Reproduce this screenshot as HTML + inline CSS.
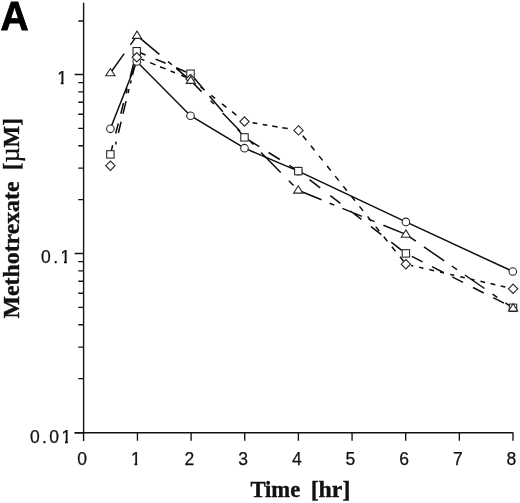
<!DOCTYPE html>
<html lang="en"><head><meta charset="utf-8"><title>Methotrexate concentration vs time</title>
<style>html,body{margin:0;padding:0;background:#fff}svg{display:block;will-change:transform}.tk{font-family:"Liberation Sans",Arial,Helvetica,sans-serif;font-size:17.5px;fill:#111;letter-spacing:2.45px;stroke:#111;stroke-width:0.25px}.ax{font-family:"Liberation Serif","Times New Roman",Times,serif;font-weight:bold;font-size:23.6px;fill:#111;stroke:#111;stroke-width:0.35px}.pl{font-family:"Liberation Sans",Arial,Helvetica,sans-serif;font-weight:bold;font-size:39px;fill:#000}.ln{stroke:#0c0c0c;stroke-width:1.5;fill:none}.mk{stroke:#262626;stroke-width:1.08;fill:#fff}.axl{stroke:#111;stroke-width:1.4;fill:none}.tck{stroke:#111;stroke-width:1.35;fill:none}</style></head><body>
<svg width="520" height="503" viewBox="0 0 520 503">
<rect width="520" height="503" fill="#fff"/>
<text class="pl" transform="translate(0.5 29.95) scale(1 1.055)" stroke="#000" stroke-width="0.8" stroke-linejoin="miter">A</text>
<path class="axl" d="M83.6 2.8V441.0M74.6 432.8H513.3"/>
<path class="tck" d="M74.6 74.50H83.6M74.6 253.50H83.6M78.3 199.62H83.6M78.3 168.10H83.6M78.3 145.73H83.6M78.3 128.38H83.6M78.3 114.21H83.6M78.3 102.23H83.6M78.3 91.85H83.6M78.3 82.69H83.6M74.6 432.80H83.6M78.3 378.62H83.6M78.3 347.10H83.6M78.3 324.73H83.6M78.3 307.38H83.6M78.3 293.21H83.6M78.3 281.23H83.6M78.3 270.85H83.6M78.3 261.69H83.6M78.3 21H83.6"/>
<path class="tck" d="M137.45 432.8V440.8M191.10 432.8V440.8M244.75 432.8V440.8M298.40 432.8V440.8M352.05 432.8V440.8M405.70 432.8V440.8M459.35 432.8V440.8M513.00 432.8V440.8"/>
<text class="tk" x="69.45" y="84.4" text-anchor="end">1</text>
<path fill="#fff" d="M56.97 81.90H60.70V86.60H56.97ZM63.60 81.90H67.37V86.60H63.60Z"/>
<text class="tk" x="72.75" y="263.0" text-anchor="end">0.1</text>
<path fill="#fff" d="M60.27 260.50H64.00V265.20H60.27ZM66.90 260.50H70.67V265.20H66.90Z"/>
<text class="tk" x="73.75" y="442.6" text-anchor="end">0.01</text>
<path fill="#fff" d="M61.27 440.10H65.00V444.80H61.27ZM67.90 440.10H71.67V444.80H67.90Z"/>
<text class="tk" x="83.4" y="465.2" text-anchor="middle">0</text>
<text class="tk" x="137.1" y="465.2" text-anchor="middle">1</text>
<text class="tk" x="190.7" y="465.2" text-anchor="middle">2</text>
<text class="tk" x="244.4" y="465.2" text-anchor="middle">3</text>
<text class="tk" x="298.0" y="465.2" text-anchor="middle">4</text>
<text class="tk" x="351.7" y="465.2" text-anchor="middle">5</text>
<text class="tk" x="405.3" y="465.2" text-anchor="middle">6</text>
<text class="tk" x="459.0" y="465.2" text-anchor="middle">7</text>
<text class="tk" x="512.6" y="465.2" text-anchor="middle">8</text>
<path fill="#fff" d="M130.68 462.7H134.41V467.4H130.68ZM137.31 462.7H141.08V467.4H137.31Z"/>
<text class="ax" x="250.4" y="496.5" textLength="49.9" lengthAdjust="spacingAndGlyphs">Time</text>
<text class="ax" x="310.7" y="496.5" textLength="39.7" lengthAdjust="spacingAndGlyphs">[hr]</text>
<text class="ax" transform="translate(18.8 318.4) rotate(-90)" textLength="136.9" lengthAdjust="spacingAndGlyphs">Methotrexate</text>
<text class="ax" transform="translate(18.8 170.2) rotate(-90)" textLength="52.1" lengthAdjust="spacingAndGlyphs">[<tspan font-weight="normal" font-size="27">µ</tspan>M]</text>
<polyline class="ln" points="110.4,128.8 136.75,61.5 190.5,115.75 244.5,148.2 298.3,171.1 405.9,221.9 512.8,271.5"/>
<path class="ln" d="M110.4 73.0L124.2 53.6M130.4 44.9L137.0 35.6M137.0 35.6L159.4 54.3M168.1 61.6L171.9 64.8M176.2 68.4L190.8 80.6M190.8 80.6L201.6 91.6M210.6 100.8L213.8 104.1M222.6 113.1L240.0 130.9M249.9 141.0L253.4 144.5M261.1 152.4L280.7 172.4M288.8 180.7L293.5 185.5M298.2 190.3L321.5 199.8M329.6 203.2L334.3 205.1M342.4 208.4L362.0 216.4M368.5 219.1L374.6 221.6M383.4 225.2L405.9 234.4M405.9 234.4L415.8 241.2M423.9 246.8L444.2 260.8M451.8 266.0L457.0 269.6M464.9 275.0L484.5 288.5M492.6 294.1L497.3 297.3M505.4 302.9L513.0 308.1M111.3 150.7L112.7 145.3M115.7 133.5L118.3 123.5M120.8 113.8L123.5 103.0M126.0 93.5L127.2 88.5M130.2 77.0L133.5 64.0M136.8 51.2L145.6 55.0M155.6 59.1L165.6 63.3M176.2 67.8L186.2 72.0M194.6 78.6L204.5 90.3M209.4 96.0L222.8 111.8M237.5 129.1L244.5 137.4M244.5 137.4L259.3 146.7M268.6 152.5L279.8 159.5M289.2 165.4L298.0 170.9M309.5 179.7L320.2 187.9M330.3 195.6L340.4 203.3M350.5 211.0L361.4 219.4M371.0 226.7L381.4 234.7M391.2 242.2L401.8 250.3M411.8 256.4L422.6 261.9M432.0 266.7L443.5 272.5M452.2 276.9L463.0 282.4M473.0 287.5L483.8 293.0M493.2 297.7L504.0 303.2M115.6 144.5L116.2 141.7M118.4 133.0L121.1 121.8M123.0 113.8L126.1 101.1M128.1 93.2L129.0 89.2M130.4 83.6L131.2 80.4M132.5 75.0L134.7 66.0M141.2 59.1L144.4 60.4M150.0 62.6L155.6 64.9M160.0 66.7L165.6 68.9M170.6 71.0L175.0 72.7M181.2 75.3L186.2 77.3M200.6 86.9L204.6 90.1M211.3 95.4L215.1 98.4M222.0 103.8L226.4 107.3M232.0 111.7L236.4 115.1M252.6 122.8L257.3 123.6M262.7 124.5L267.4 125.3M272.2 126.1L277.6 127.0M282.3 127.7L287.7 128.6M302.8 135.8L306.4 140.2M310.9 145.8L314.5 150.3M319.0 155.9L322.6 160.4M327.1 166.0L330.7 170.5M335.2 176.1L338.8 180.6M343.3 186.2L346.9 190.7M351.4 196.3L355.0 200.8M359.5 206.4L363.1 210.9M367.6 216.5L371.2 221.0M375.7 226.6L379.3 231.1M383.8 236.7L387.4 241.2M391.9 246.8L395.5 251.2M400.0 256.8L403.6 261.3M411.1 265.4L413.3 265.9M419.2 267.3L423.4 268.2M429.3 269.6L434.1 270.7M440.1 272.0L444.0 272.9M450.2 274.4L454.3 275.3M460.2 276.7L464.8 277.7M470.3 279.0L474.5 279.9M480.4 281.3L485.1 282.4M490.5 283.6L495.3 284.7M500.7 286.0L505.4 287.0"/>
<circle class="mk" cx="110.4" cy="128.8" r="3.8"/>
<circle class="mk" cx="136.75" cy="61.5" r="3.8"/>
<circle class="mk" cx="190.5" cy="115.75" r="3.8"/>
<circle class="mk" cx="244.5" cy="148.2" r="3.8"/>
<circle class="mk" cx="298.3" cy="171.1" r="3.8"/>
<circle class="mk" cx="405.9" cy="221.9" r="3.8"/>
<circle class="mk" cx="512.8" cy="271.5" r="3.8"/>
<rect class="mk" x="106.70" y="150.70" width="7.4" height="7.4"/>
<rect class="mk" x="133.05" y="47.55" width="7.4" height="7.4"/>
<rect class="mk" x="186.80" y="70.05" width="7.4" height="7.4"/>
<rect class="mk" x="240.80" y="133.70" width="7.4" height="7.4"/>
<rect class="mk" x="294.60" y="167.40" width="7.4" height="7.4"/>
<rect class="mk" x="402.20" y="249.70" width="7.4" height="7.4"/>
<rect class="mk" x="509.30" y="304.10" width="7.4" height="7.4"/>
<path class="mk" d="M110.4 161.0L115.10000000000001 165.7L110.4 170.39999999999998L105.7 165.7Z"/>
<path class="mk" d="M136.8 52.599999999999994L141.5 57.3L136.8 62.0L132.10000000000002 57.3Z"/>
<path class="mk" d="M190.5 74.3L195.2 79L190.5 83.7L185.8 79Z"/>
<path class="mk" d="M244.5 116.8L249.2 121.5L244.5 126.2L239.8 121.5Z"/>
<path class="mk" d="M298.5 125.7L303.2 130.4L298.5 135.1L293.8 130.4Z"/>
<path class="mk" d="M405.9 259.5L410.59999999999997 264.2L405.9 268.9L401.2 264.2Z"/>
<path class="mk" d="M513.1 284.1L517.8000000000001 288.8L513.1 293.5L508.40000000000003 288.8Z"/>
<path class="mk" d="M110.4 68.5L115.0 75.8L105.80000000000001 75.8Z"/>
<path class="mk" d="M137 31.1L141.6 38.4L132.4 38.4Z"/>
<path class="mk" d="M190.8 76.1L195.4 83.39999999999999L186.20000000000002 83.39999999999999Z"/>
<path class="mk" d="M298.2 185.8L302.8 193.10000000000002L293.59999999999997 193.10000000000002Z"/>
<path class="mk" d="M405.9 229.9L410.5 237.20000000000002L401.29999999999995 237.20000000000002Z"/>
<path class="mk" d="M513.1 303.7L517.7 311.0L508.5 311.0Z"/>
</svg></body></html>
